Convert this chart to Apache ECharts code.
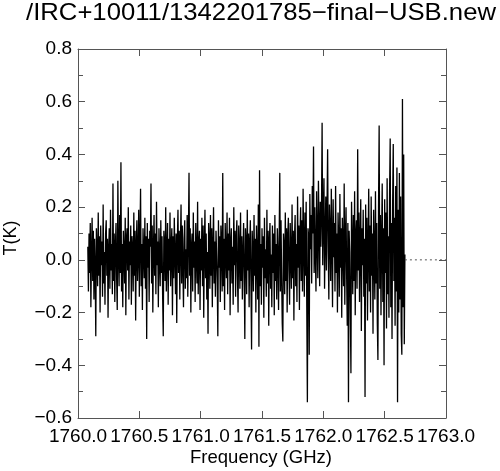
<!DOCTYPE html>
<html>
<head>
<meta charset="utf-8">
<script src="https://cdn.jsdelivr.net/npm/echarts@6/dist/echarts.min.js"></script>
<style>html,body{margin:0;padding:0;background:#fff}#c{width:500px;height:471px}</style>
</head>
<body>
<div id="c"></div>
<script>
const titleText = '/IRC+10011/1342201785\u2212final\u2212USB.new';
const xName = 'Frequency (GHz)';
const yName = 'T(K)';
const xTicks = [1760.0, 1760.5, 1761.0, 1761.5, 1762.0, 1762.5, 1763.0];
const yTicks = [-0.6, -0.4, -0.2, 0.0, 0.2, 0.4, 0.6, 0.8];
const freqStart = 1760.08;   // GHz, first channel
const freqStep = 0.005;      // GHz, channel width
const blankFrom = 1762.665;  // end of spectrum, zero-filled after
const blankTo = 1763.0;
const temps = [
0.05,-0.12,0.10,-0.05,0.14,-0.18,0.02,0.16,-0.08,0.11,
-0.15,0.08,-0.03,-0.29,0.12,0.04,-0.10,0.18,-0.06,0.09,
-0.20,0.13,-0.02,0.07,-0.14,0.21,-0.09,0.03,-0.17,0.10,
0.15,-0.06,0.08,-0.22,0.04,0.12,-0.11,0.19,-0.04,0.06,
-0.13,0.29,-0.08,0.10,-0.16,0.05,0.14,-0.07,-0.19,0.30,
0.02,-0.10,0.17,-0.05,0.37,-0.12,0.06,-0.18,0.11,0.03,
-0.09,0.16,-0.21,0.08,0.12,-0.04,0.20,-0.15,0.07,-0.02,
0.13,-0.17,0.09,0.04,-0.12,0.18,-0.06,0.11,-0.23,0.05,
0.15,-0.08,0.02,0.19,-0.14,0.07,0.27,-0.10,0.06,-0.19,
0.12,0.03,-0.07,0.16,-0.11,0.09,-0.30,0.14,-0.03,0.08,
-0.16,0.11,0.05,0.29,-0.09,0.13,-0.20,0.04,0.17,-0.06,
0.10,-0.13,0.22,-0.02,0.07,-0.18,0.12,0.01,-0.10,0.15,
-0.05,0.09,-0.14,-0.29,0.11,0.06,-0.08,0.20,-0.12,0.03,
0.14,-0.17,0.08,-0.04,0.18,-0.10,0.05,0.12,-0.21,0.09,
-0.07,0.16,0.02,-0.13,0.10,-0.24,0.07,0.19,-0.05,0.11,
-0.15,0.06,0.21,-0.09,0.13,-0.02,-0.18,0.08,0.15,-0.11,
0.04,-0.07,0.17,-0.14,0.09,0.33,-0.06,0.12,-0.20,0.05,
0.10,-0.12,0.18,-0.03,0.07,-0.16,0.14,0.01,-0.09,0.22,
-0.13,0.06,0.11,-0.19,0.08,-0.04,0.16,-0.10,0.13,-0.22,
0.05,0.19,-0.07,0.10,-0.15,0.03,-0.28,0.14,0.08,-0.11,
0.17,-0.06,0.12,-0.18,0.04,0.20,-0.09,0.07,-0.14,0.11,
0.02,-0.08,-0.29,0.15,-0.03,0.09,-0.16,0.13,0.06,-0.12,
0.33,-0.10,0.08,-0.19,0.14,0.03,-0.07,0.18,-0.13,0.10,
-0.04,0.16,-0.21,0.07,0.12,-0.09,0.05,-0.17,0.20,-0.02,
0.11,-0.14,0.08,0.15,-0.06,-0.20,0.13,0.04,-0.11,0.18,
-0.08,0.09,-0.15,0.02,0.14,-0.05,-0.30,0.12,0.07,-0.13,
0.19,-0.04,0.10,-0.18,0.06,0.15,-0.09,-0.34,0.11,0.03,
-0.12,0.17,-0.06,0.08,-0.20,0.13,0.01,-0.15,0.21,-0.33,
0.34,-0.10,0.06,-0.17,0.12,-0.03,0.09,-0.22,0.16,-0.07,
0.04,-0.14,0.19,-0.09,0.11,-0.25,0.07,0.14,-0.11,0.02,
-0.18,0.13,-0.05,0.10,-0.21,0.17,-0.08,0.06,-0.15,0.12,
0.03,-0.19,0.08,0.33,-0.12,0.15,-0.06,-0.24,-0.31,0.10,
0.05,-0.13,0.18,-0.08,0.12,-0.20,0.09,0.16,-0.04,-0.17,
0.14,0.02,-0.11,0.21,-0.07,0.11,-0.23,0.08,0.17,-0.10,
0.06,-0.16,0.24,-0.03,0.13,-0.19,0.10,0.20,-0.08,0.15,
-0.12,0.27,0.05,-0.14,0.18,-0.06,0.22,-0.18,-0.54,0.12,
0.09,-0.36,0.25,0.04,0.17,-0.09,0.28,0.10,0.43,-0.05,
0.20,0.02,-0.12,0.26,0.08,-0.07,0.30,0.13,-0.10,0.22,
0.05,0.18,0.52,-0.02,0.16,0.31,-0.11,0.09,0.24,-0.04,
0.19,0.42,0.03,-0.15,0.21,0.11,-0.08,0.27,0.06,-0.18,
0.23,0.01,0.14,-0.12,0.28,-0.05,0.10,-0.20,0.18,0.07,
-0.14,0.25,-0.03,0.12,-0.22,0.16,0.05,-0.10,0.29,-0.17,
0.08,0.20,-0.06,-0.25,0.14,-0.54,0.11,0.03,-0.19,-0.43,
0.22,0.06,-0.13,0.17,-0.08,0.26,-0.21,0.09,0.15,-0.11,
0.42,-0.04,0.18,-0.16,0.07,0.23,-0.27,0.12,-0.02,0.19,
-0.14,0.08,-0.52,0.21,-0.09,0.16,-0.23,0.05,0.27,-0.12,
0.13,-0.20,0.24,-0.06,0.10,-0.28,0.19,0.02,-0.15,0.26,
-0.09,0.14,-0.24,-0.38,0.20,0.51,-0.11,0.17,-0.21,0.08,
0.29,-0.16,0.12,-0.40,0.23,-0.05,0.18,-0.26,0.31,-0.13,
0.09,-0.22,0.25,0.46,-0.18,0.14,-0.30,0.21,0.44,-0.08,
0.16,-0.25,0.28,-0.12,0.35,-0.54,0.19,-0.20,0.33,-0.15,
0.24,-0.28,-0.36,0.61,-0.18,0.40,-0.32,0.02
];

const FONT = '"Liberation Sans", Arial, Helvetica, sans-serif';
const spectrum = temps.map((v, i) => [freqStart + i * freqStep, v]);
const blank = [[blankFrom, 0], [blankTo, 0]];
const fmt = v => (v < 0 ? '\u2212' : '') + Math.abs(v).toFixed(1);
const axisCol = '#555';

const chart = echarts.init(document.getElementById('c'), null, {renderer: 'canvas'});
const xBase = {
  type: 'value', min: xTicks[0], max: xTicks[xTicks.length - 1], interval: 0.5,
  axisLine: {show: true, onZero: false, lineStyle: {color: axisCol, width: 1}},
  axisTick: {show: true, inside: true, length: 7, lineStyle: {color: axisCol}},
  minorTick: {show: false},
  splitLine: {show: false}
};
const yBase = {
  type: 'value', min: yTicks[0], max: yTicks[yTicks.length - 1], interval: 0.2,
  axisLine: {show: true, onZero: false, lineStyle: {color: axisCol, width: 1}},
  axisTick: {show: true, inside: true, length: 7, lineStyle: {color: axisCol}},
  minorTick: {show: true, splitNumber: 2, length: 5, lineStyle: {color: axisCol}},
  splitLine: {show: false}
};
chart.setOption({
  animation: false,
  backgroundColor: '#fff',
  grid: {left: 78, right: 54, top: 49, bottom: 53},
  xAxis: [
    Object.assign({}, xBase, {position: 'bottom',
      axisLabel: {show: true, margin: 9, fontSize: 19, fontFamily: FONT, color: '#000', formatter: fmt}}),
    Object.assign({}, xBase, {position: 'top', axisLabel: {show: false}})
  ],
  yAxis: [
    Object.assign({}, yBase, {position: 'left',
      axisLabel: {show: true, margin: 6, fontSize: 19, fontFamily: FONT, color: '#000', formatter: fmt}}),
    Object.assign({}, yBase, {position: 'right', axisLabel: {show: false}})
  ],
  graphic: [
    {type: 'text', x: 261, y: 13, scaleX: 1.07, silent: true,
      style: {text: titleText, font: '24px ' + FONT, fill: '#000',
        textAlign: 'center', textVerticalAlign: 'middle', align: 'center', verticalAlign: 'middle'}},
    {type: 'text', x: 261, y: 458, silent: true,
      style: {text: xName, font: '18.5px ' + FONT, fill: '#000',
        textAlign: 'center', textVerticalAlign: 'middle', align: 'center', verticalAlign: 'middle'}},
    {type: 'text', x: 11, y: 238, rotation: Math.PI / 2, silent: true,
      style: {text: yName, font: '18px ' + FONT, fill: '#000',
        textAlign: 'center', textVerticalAlign: 'middle', align: 'center', verticalAlign: 'middle'}}
  ],
  series: [
    {type: 'line', data: spectrum, xAxisIndex: 0, yAxisIndex: 0, showSymbol: false, symbol: 'none',
      sampling: null, lineStyle: {color: '#000', width: 1.3}, silent: true},
    {type: 'line', data: blank, xAxisIndex: 0, yAxisIndex: 0, showSymbol: false, symbol: 'none',
      lineStyle: {color: '#555', width: 1, type: [2, 3]}, silent: true}
  ]
});
</script>
</body>
</html>
